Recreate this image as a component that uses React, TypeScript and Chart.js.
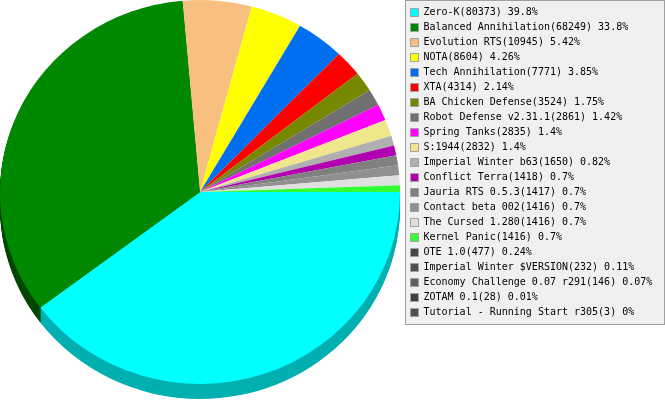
import React, { useEffect, useRef } from "react";
import { Chart, registerables } from "chart.js";

Chart.register(...registerables);

const names = [
  "Zero-K", "Balanced Annihilation", "Evolution RTS", "NOTA", "Tech Annihilation", "XTA",
  "BA Chicken Defense", "Robot Defense v2.31.1", "Spring Tanks", "S:1944", "Imperial Winter b63",
  "Conflict Terra", "Jauria RTS 0.5.3", "Contact beta 002", "The Cursed 1.280", "Kernel Panic",
  "OTE 1.0", "Imperial Winter $VERSION", "Economy Challenge 0.07 r291", "ZOTAM 0.1", "Tutorial - Running Start r305",
];
const counts = [80373, 68249, 10945, 8604, 7771, 4314, 3524, 2861, 2835, 2832, 1650, 1418, 1417, 1416, 1416, 1416, 477, 232, 146, 28, 3];
const percents = ["39.8", "33.8", "5.42", "4.26", "3.85", "2.14", "1.75", "1.42", "1.4", "1.4", "0.82", "0.7", "0.7", "0.7", "0.7", "0.7", "0.24", "0.11", "0.07", "0.01", "0"];
const colors = [
  "#00ffff", "#008800", "#f8c080", "#ffff00", "#0070f0", "#ff0000", "#778800", "#707070", "#ff00ff", "#f0e68c", "#b0b0b0",
  "#b000b0", "#808080", "#909090", "#e0e0e0", "#33ff33", "#484848", "#505050", "#606060", "#404040", "#505050",
];
// Only the two slices facing the viewer show their side wall.
const wallColors = ["#00b0b0", "#004800"];
// The picture draws whole-degree slices; the last five games
// have no visible slice and appear only in the legend.
const sliceDegrees = [143, 122, 20, 15, 14, 8, 6, 5, 5, 5, 3, 3, 3, 3, 3, 2];

const RX = 200;
const DEPTH = 15;

const pie3d = {
  id: "pie3d",
  beforeLayout(chart: any) {
    const l = chart.legend;
    if (l && !l.__wrapped) {
      const fit = l.fit;
      l.fit = function (this: any) {
        fit.call(this);
        this.width = 265;
      };
      l.__wrapped = true;
    }
  },
  afterLayout(chart: any) {
    const l = chart.legend;
    l.left = 405.5;
    l.right = 664.5;
    l.top = 2.5;
  },
  beforeDraw(chart: any) {
    const { ctx } = chart;
    ctx.save();
    ctx.fillStyle = "#f0f0f0";
    ctx.strokeStyle = "#a0a0a0";
    ctx.lineWidth = 1;
    ctx.fillRect(405.5, 0.5, 259, 324);
    ctx.strokeRect(405.5, 0.5, 259, 324);
    ctx.restore();
  },
  beforeDatasetDraw(chart: any) {
    const { ctx } = chart;
    const arcs = chart.getDatasetMeta(0).data;
    const first = arcs[0];
    const sx = RX / first.outerRadius;
    ctx.save();
    for (let d = DEPTH; d >= 1; d--) {
      wallColors.forEach((wall, i) => {
        const a = arcs[i];
        ctx.save();
        ctx.translate(a.x, a.y + d);
        ctx.scale(sx, 1);
        ctx.beginPath();
        ctx.moveTo(0, 0);
        ctx.arc(0, 0, a.outerRadius, a.startAngle, a.endAngle);
        ctx.closePath();
        ctx.fillStyle = wall;
        ctx.fill();
        ctx.restore();
      });
    }
    ctx.translate(first.x, first.y);
    ctx.scale(sx, 1);
    ctx.translate(-first.x, -first.y);
  },
  afterDatasetDraw(chart: any) {
    chart.ctx.restore();
  },
};

export default function App() {
  const ref = useRef<HTMLCanvasElement>(null);
  useEffect(() => {
    document.body.style.margin = "0";
    document.body.style.background = "#fff";
    const chart = new Chart(ref.current as HTMLCanvasElement, {
      type: "pie",
      data: {
        labels: names.slice(0, sliceDegrees.length),
        datasets: [{
          data: sliceDegrees,
          backgroundColor: colors.slice(0, sliceDegrees.length),
          borderWidth: 0,
        }],
      },
      options: {
        responsive: false,
        animation: false,
        devicePixelRatio: 1,
        rotation: 90,
        layout: { padding: { left: 0, right: 0, top: 0, bottom: 16 } },
        plugins: {
          tooltip: { enabled: false },
          legend: {
            position: "right",
            align: "start",
            labels: {
              boxWidth: 8,
              boxHeight: 8,
              padding: 5,
              color: "#000",
              font: { family: "'DejaVu Sans Mono'", size: 10 },
              generateLabels: () =>
                names.map((n, i) => ({
                  text: `${n}(${counts[i]}) ${percents[i]}%`,
                  fillStyle: colors[i],
                  strokeStyle: "#a0a0a0",
                  lineWidth: 1,
                  fontColor: "#000",
                  hidden: false,
                  index: i,
                })),
            },
          },
        },
      },
      plugins: [pie3d],
    } as any);
    return () => chart.destroy();
  }, []);
  return <canvas ref={ref} width={665} height={400} style={{ display: "block" }} />;
}
